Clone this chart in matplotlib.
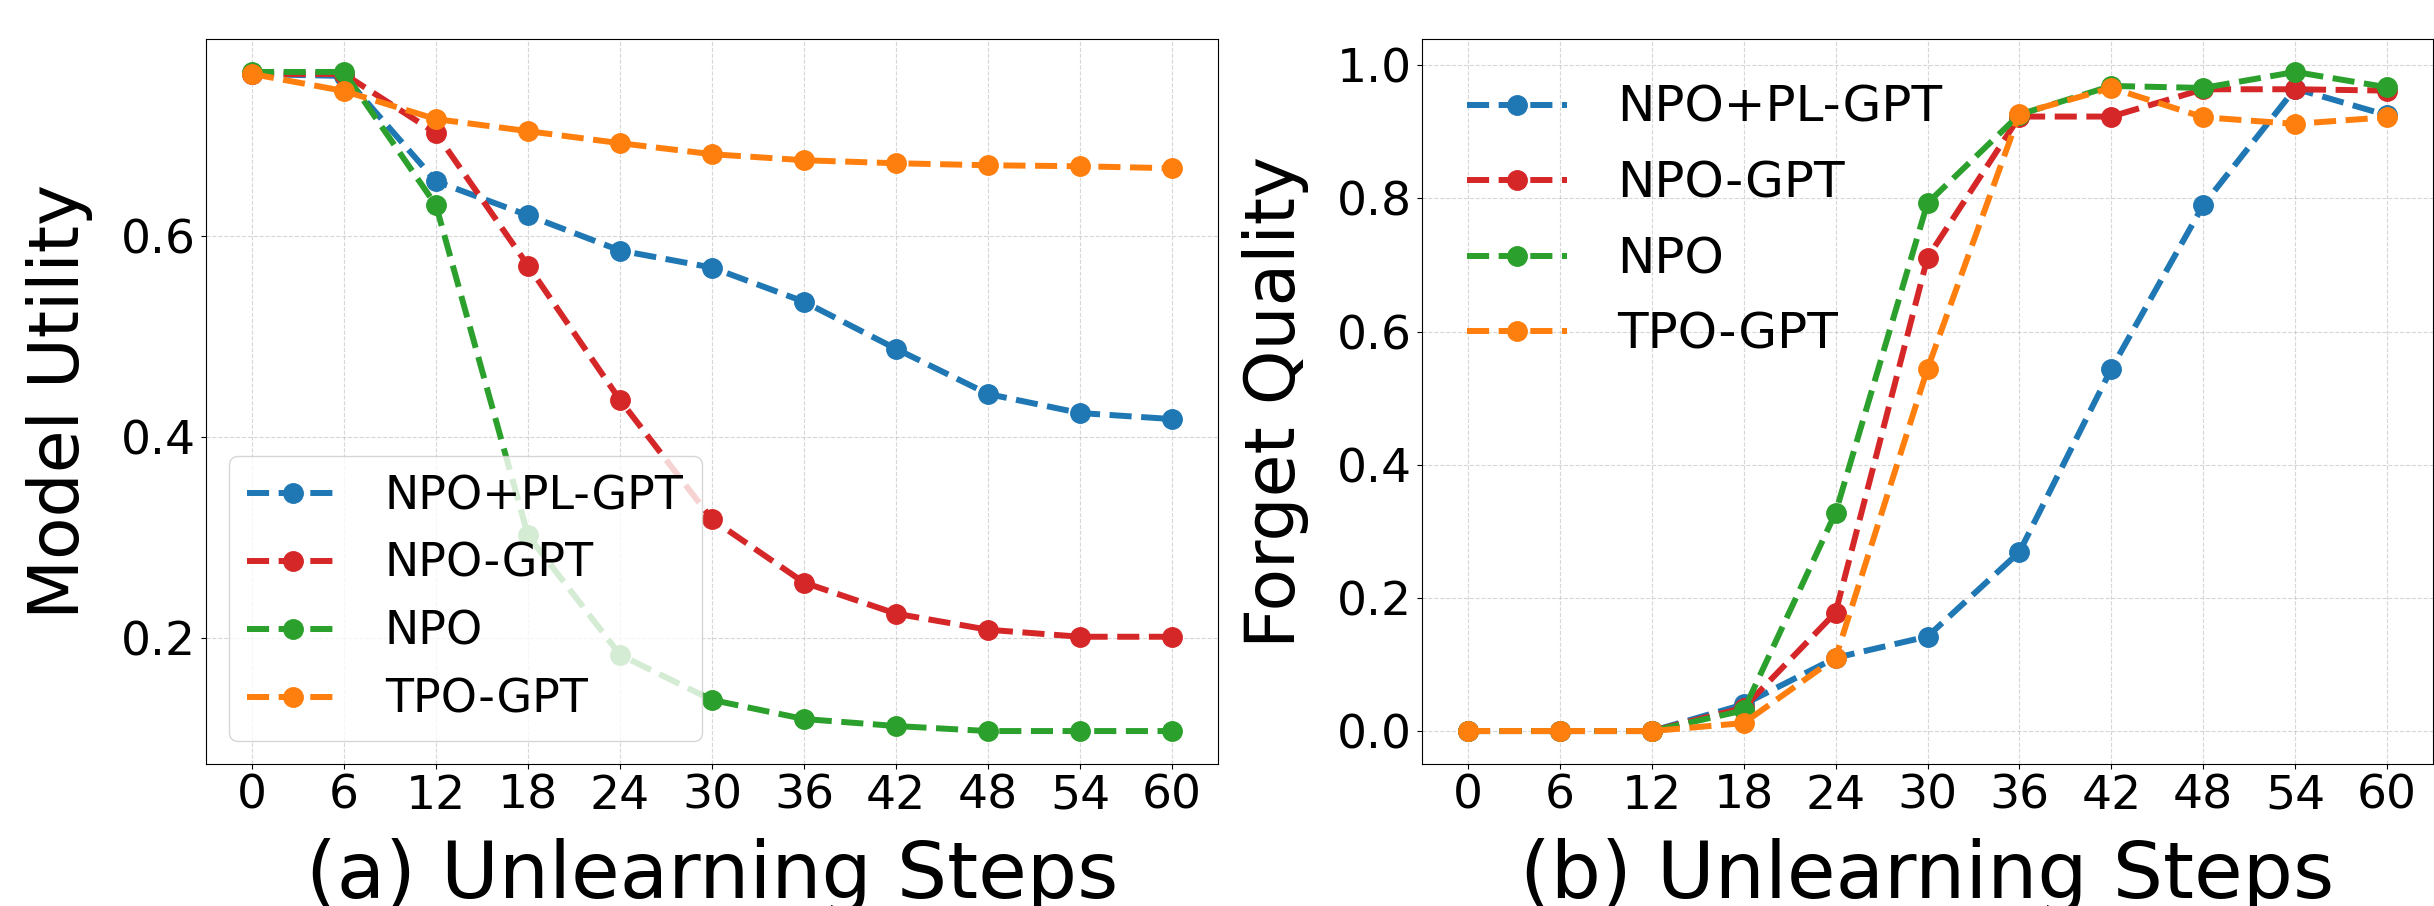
import matplotlib
matplotlib.use('Agg')
import matplotlib.pyplot as plt

steps = [0, 6, 12, 18, 24, 30, 36, 42, 48, 54, 60]
metodos = ['NPO+PL-GPT', 'NPO-GPT', 'NPO', 'TPO-GPT']
cores = ['tab:blue', 'tab:red', 'tab:green', 'tab:orange']

# (a) model utility
utility_npo_pl = [0.762, 0.760, 0.655, 0.621, 0.586, 0.569, 0.535, 0.488, 0.443, 0.424, 0.418]
utility_npo_gpt = [0.762, 0.762, 0.703, 0.571, 0.437, 0.318, 0.255, 0.224, 0.208, 0.201, 0.201]
utility_npo = [0.764, 0.764, 0.631, 0.302, 0.183, 0.138, 0.119, 0.112, 0.107, 0.107, 0.107]
utility_tpo = [0.762, 0.745, 0.717, 0.705, 0.693, 0.682, 0.676, 0.673, 0.671, 0.670, 0.668]

# (b) forget quality
forget_npo_pl = [0.0, 0.0, 0.0, 0.040, 0.110, 0.142, 0.269, 0.544, 0.790, 0.965, 0.925]
forget_npo_gpt = [0.0, 0.0, 0.0, 0.035, 0.178, 0.711, 0.923, 0.923, 0.964, 0.964, 0.962]
forget_npo = [0.0, 0.0, 0.0, 0.031, 0.328, 0.793, 0.926, 0.969, 0.966, 0.990, 0.967]
forget_tpo = [0.0, 0.0, 0.0, 0.012, 0.110, 0.544, 0.927, 0.966, 0.922, 0.912, 0.922]

utility = [utility_npo_pl, utility_npo_gpt, utility_npo, utility_tpo]
forget = [forget_npo_pl, forget_npo_gpt, forget_npo, forget_tpo]

fig = plt.figure(figsize=(24.34, 9.06), dpi=100)
ax1 = fig.add_axes([206 / 2434, 142 / 906, 1012 / 2434, 725 / 906])
ax2 = fig.add_axes([1422 / 2434, 142 / 906, 1011 / 2434, 725 / 906])

for ax, dados, letra, ylab in [(ax1, utility, 'a', 'Model Utility'),
                                (ax2, forget, 'b', 'Forget Quality')]:
    for valores, nome, cor in zip(dados, metodos, cores):
        ax.plot(steps, valores, '--o', color=cor, label=nome,
                linewidth=4.3, markersize=14)
    ax.set_xticks(steps)
    ax.tick_params(labelsize=34)
    ax.grid(True, linestyle='--', alpha=0.5)
    ax.set_xlabel('(%s) Unlearning Steps' % letra, fontsize=57, labelpad=14)
    ax.set_ylabel(ylab, fontsize=50, labelpad=20)

ax1.set_yticks([0.2, 0.4, 0.6])
ax1.legend(loc='lower left', fontsize=33, handletextpad=1.0)
ax2.set_yticks([0.0, 0.2, 0.4, 0.6, 0.8, 1.0])
ax2.legend(loc='upper left', fontsize=36, frameon=False, handletextpad=1.0,
           labelspacing=0.55)

fig.savefig('out.png', dpi=100)
